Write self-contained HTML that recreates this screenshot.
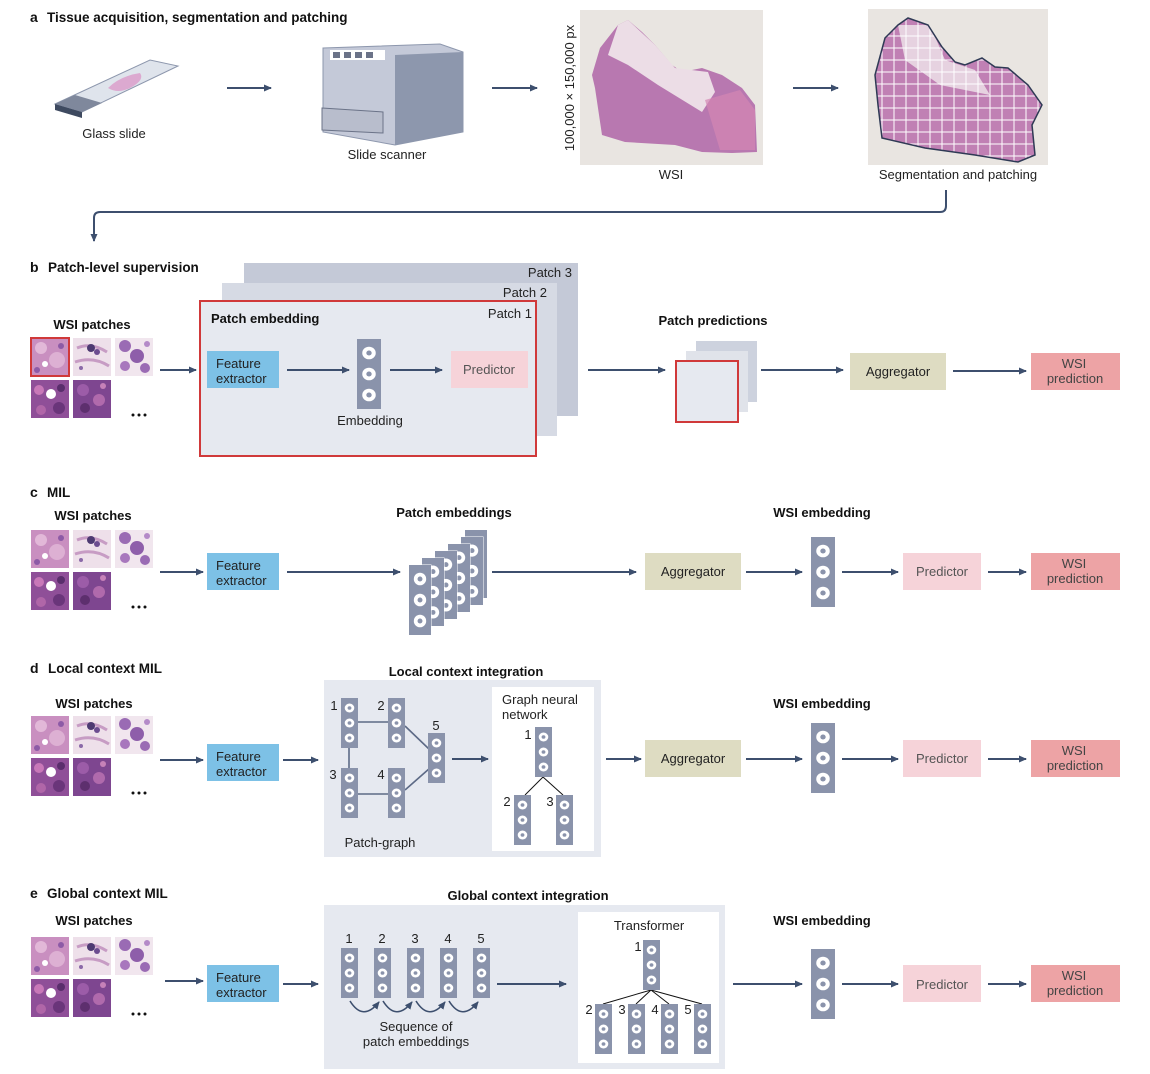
<!DOCTYPE html>
<html><head><meta charset="utf-8"><style>
html,body{margin:0;padding:0;background:#fff;}
svg{display:block;font-family:"Liberation Sans",sans-serif;}
.t{font-size:13px;fill:#222;}
.b{font-size:13px;font-weight:bold;fill:#111;}
.h{font-size:14px;font-weight:bold;fill:#111;}
.ar{stroke:#3d4f6e;stroke-width:2;fill:none;marker-end:url(#ah);}
.ln{stroke:#5d6a86;stroke-width:1.6;fill:none;}
</style></head><body>
<svg width="1150" height="1074" viewBox="0 0 1150 1074" xmlns="http://www.w3.org/2000/svg">
<defs>
<marker id="ah" markerWidth="8" markerHeight="8" refX="7" refY="4" orient="auto" markerUnits="userSpaceOnUse"><path d="M0,0.5 L8,4 L0,7.5z" fill="#3d4f6e"/></marker>
<symbol id="emb" viewBox="0 0 16 50" preserveAspectRatio="none"><rect width="16" height="50" fill="#8a93ab"/><circle cx="8" cy="10" r="4.5" fill="#fff"/><circle cx="8" cy="10" r="1.8" fill="#8a93ab"/><circle cx="8" cy="25" r="4.5" fill="#fff"/><circle cx="8" cy="25" r="1.8" fill="#8a93ab"/><circle cx="8" cy="40" r="4.5" fill="#fff"/><circle cx="8" cy="40" r="1.8" fill="#8a93ab"/></symbol>
<symbol id="t1" viewBox="0 0 38 38"><rect width="38" height="38" fill="#c98fc0"/><circle cx="10" cy="10" r="6" fill="#e2b8d8"/><circle cx="26" cy="22" r="8" fill="#ddb0d3"/><circle cx="14" cy="26" r="3" fill="#fff"/><circle cx="30" cy="8" r="3" fill="#8d5aa6"/><circle cx="6" cy="32" r="3" fill="#8d5aa6"/></symbol>
<symbol id="t2" viewBox="0 0 38 38"><rect width="38" height="38" fill="#eee0ea"/><path d="M4 10 Q18 4 34 14 M2 24 Q20 18 36 28" stroke="#c79cc4" stroke-width="3" fill="none"/><circle cx="18" cy="10" r="4" fill="#4d3a72"/><circle cx="24" cy="14" r="3" fill="#6c4c90"/><circle cx="8" cy="30" r="2" fill="#8b6aa8"/></symbol>
<symbol id="t3" viewBox="0 0 38 38"><rect width="38" height="38" fill="#f1e6ee"/><circle cx="10" cy="8" r="6" fill="#9a6bb4"/><circle cx="22" cy="18" r="7" fill="#8e5eaa"/><circle cx="10" cy="28" r="5" fill="#a877bd"/><circle cx="30" cy="30" r="5" fill="#9a6bb4"/><circle cx="32" cy="6" r="3" fill="#b48ac8"/></symbol>
<symbol id="t4" viewBox="0 0 38 38"><rect width="38" height="38" fill="#8f4f98"/><circle cx="8" cy="10" r="5" fill="#c878b8"/><circle cx="20" cy="14" r="5" fill="#fff"/><circle cx="28" cy="28" r="6" fill="#6a357a"/><circle cx="10" cy="30" r="5" fill="#b066a8"/><circle cx="30" cy="8" r="4" fill="#5a2e6c"/></symbol>
<symbol id="t5" viewBox="0 0 38 38"><rect width="38" height="38" fill="#7e4690"/><circle cx="10" cy="10" r="6" fill="#9c5ca8"/><circle cx="26" cy="20" r="6" fill="#b06aac"/><circle cx="12" cy="28" r="5" fill="#5d2f6e"/><circle cx="30" cy="6" r="3" fill="#c681b8"/></symbol>
<g id="tiles"><use href="#t1" x="0" y="0" width="38" height="38"/><use href="#t2" x="42" y="0" width="38" height="38"/><use href="#t3" x="84" y="0" width="38" height="38"/><use href="#t4" x="0" y="42" width="38" height="38"/><use href="#t5" x="42" y="42" width="38" height="38"/><circle cx="102" cy="77" r="1.5" fill="#111"/><circle cx="108" cy="77" r="1.5" fill="#111"/><circle cx="114" cy="77" r="1.5" fill="#111"/></g>
<clipPath id="segclip"><path d="M875,75 L885,38 L898,25 L908,18 L928,25 L942,47 L955,62 L965,65 L982,58 L995,67 L1008,68 L1028,85 L1042,105 L1032,125 L1035,155 L1018,162 L975,155 L925,148 L882,138 L878,105Z"/></clipPath>
</defs>

<!-- a -->
<text x="30" y="22" class="h">a</text><text x="47" y="22" class="h" style="font-size:13.5px">Tissue acquisition, segmentation and patching</text>
<path d="M55 104 L150 60 L178 66 L82 112Z" fill="#dfe4ec" stroke="#8d97ad"/>
<path d="M55 104 L82 112 L82 118 L55 110Z" fill="#3e4a60"/>
<path d="M55 104 L75 95 L102 103 L82 112Z" fill="#7f889c"/>
<path d="M108 88 Q120 76 140 73 Q145 80 130 88 Q118 94 108 88Z" fill="#dca9d0"/>
<text x="114" y="138" class="t" text-anchor="middle">Glass slide</text>
<line x1="227" y1="88" x2="271" y2="88" class="ar"/>
<path d="M323 48 L440 44 L463 52 L463 132 L395 145 L323 132Z" fill="#c4c9d8" stroke="#8d97ad"/>
<path d="M395 55 L463 52 L463 132 L395 145Z" fill="#8d97ad"/>
<rect x="330" y="50" width="55" height="10" fill="#fff"/>
<rect x="333" y="52" width="7" height="6" fill="#6b7388"/><rect x="344" y="52" width="7" height="6" fill="#6b7388"/><rect x="355" y="52" width="7" height="6" fill="#6b7388"/><rect x="366" y="52" width="7" height="6" fill="#6b7388"/>
<path d="M322 108 L383 112 L383 133 L322 130Z" fill="#b8bdcc" stroke="#6b7388"/>
<text x="387" y="159" class="t" text-anchor="middle">Slide scanner</text>
<line x1="492" y1="88" x2="537" y2="88" class="ar"/>
<text transform="translate(574,88) rotate(-90)" class="t" text-anchor="middle">100,000 × 150,000 px</text>
<rect x="580" y="10" width="183" height="155" fill="#e9e5e1"/>
<path d="M592,75 L600,48 L618,25 L628,20 L642,32 L655,45 L672,65 L682,72 L702,68 L722,75 L742,88 L755,105 L757,152 L732,153 L702,152 L675,145 L625,142 L602,135 L595,88Z" fill="#b878b0"/>
<path d="M618,25 L628,20 L655,45 L675,68 L708,72 L715,92 L702,112 L658,85 L628,65 L608,55Z" fill="#ecdde6"/>
<path d="M705,100 L740,90 L755,110 L755,150 L720,150Z" fill="#d486b4" opacity="0.7"/>
<text x="671" y="179" class="t" text-anchor="middle">WSI</text>
<line x1="793" y1="88" x2="838" y2="88" class="ar"/>
<rect x="868" y="9" width="180" height="156" fill="#e9e5e1"/>
<g clip-path="url(#segclip)">
<rect x="868" y="9" width="180" height="156" fill="#c080b4"/>
<path d="M898,25 L930,25 L945,60 L975,70 L990,95 L940,85 L905,60Z" fill="#e6d2e0"/>
<g stroke="#fff" stroke-width="1">
<line x1="868" y1="36" x2="1048" y2="36"/><line x1="868" y1="48" x2="1048" y2="48"/><line x1="868" y1="60" x2="1048" y2="60"/><line x1="868" y1="72" x2="1048" y2="72"/><line x1="868" y1="84" x2="1048" y2="84"/><line x1="868" y1="96" x2="1048" y2="96"/><line x1="868" y1="108" x2="1048" y2="108"/><line x1="868" y1="120" x2="1048" y2="120"/><line x1="868" y1="132" x2="1048" y2="132"/><line x1="868" y1="144" x2="1048" y2="144"/><line x1="868" y1="156" x2="1048" y2="156"/>
<line x1="882" y1="9" x2="882" y2="165"/><line x1="894" y1="9" x2="894" y2="165"/><line x1="906" y1="9" x2="906" y2="165"/><line x1="918" y1="9" x2="918" y2="165"/><line x1="930" y1="9" x2="930" y2="165"/><line x1="942" y1="9" x2="942" y2="165"/><line x1="954" y1="9" x2="954" y2="165"/><line x1="966" y1="9" x2="966" y2="165"/><line x1="978" y1="9" x2="978" y2="165"/><line x1="990" y1="9" x2="990" y2="165"/><line x1="1002" y1="9" x2="1002" y2="165"/><line x1="1014" y1="9" x2="1014" y2="165"/><line x1="1026" y1="9" x2="1026" y2="165"/><line x1="1038" y1="9" x2="1038" y2="165"/>
</g></g>
<path d="M875,75 L885,38 L898,25 L908,18 L928,25 L942,47 L955,62 L965,65 L982,58 L995,67 L1008,68 L1028,85 L1042,105 L1032,125 L1035,155 L1018,162 L975,155 L925,148 L882,138 L878,105Z" fill="none" stroke="#2f3a55" stroke-width="1.5"/>
<text x="958" y="179" class="t" text-anchor="middle">Segmentation and patching</text>
<path d="M946 190 L946 206 Q946 212 940 212 L100 212 Q94 212 94 218 L94 241" class="ar"/>

<!-- b -->
<text x="30" y="272" class="h">b</text><text x="48" y="272" class="h" style="font-size:13.5px">Patch-level supervision</text>
<rect x="244" y="263" width="334" height="153" fill="#c4c9d7"/>
<rect x="222" y="283" width="335" height="153" fill="#d6dae4"/>
<rect x="200" y="301" width="336" height="155" fill="#e6e9f0" stroke="#d0393a" stroke-width="2"/>
<text x="572" y="277" class="t" text-anchor="end">Patch 3</text>
<text x="547" y="297" class="t" text-anchor="end">Patch 2</text>
<text x="532" y="318" class="t" text-anchor="end">Patch 1</text>
<text x="211" y="323" class="b">Patch embedding</text>
<rect x="207" y="351" width="72" height="37" fill="#7dc1e6"/>
<text x="216" y="368" class="t">Feature</text><text x="216" y="383" class="t">extractor</text>
<line x1="287" y1="370" x2="349" y2="370" class="ar"/>
<use href="#emb" x="357" y="339" width="24" height="70"/>
<text x="370" y="425" class="t" text-anchor="middle">Embedding</text>
<line x1="390" y1="370" x2="442" y2="370" class="ar"/>
<rect x="451" y="351" width="77" height="37" fill="#f6d3d9"/>
<text x="489" y="374" class="t" text-anchor="middle" style="fill:#555">Predictor</text>
<text x="92" y="329" class="b" text-anchor="middle">WSI patches</text>
<use href="#tiles" x="31" y="338"/>
<rect x="31" y="338" width="38" height="38" fill="none" stroke="#d0393a" stroke-width="2"/>
<line x1="160" y1="370" x2="196" y2="370" class="ar"/>
<line x1="588" y1="370" x2="665" y2="370" class="ar"/>
<text x="713" y="325" class="b" text-anchor="middle">Patch predictions</text>
<rect x="696" y="341" width="61" height="61" fill="#cdd2de"/>
<rect x="686" y="351" width="62" height="61" fill="#e0e3ea"/>
<rect x="676" y="361" width="62" height="61" fill="#e6e9f0" stroke="#d0393a" stroke-width="2"/>
<line x1="761" y1="370" x2="843" y2="370" class="ar"/>
<rect x="850" y="353" width="96" height="37" fill="#dedcc2"/>
<text x="898" y="376" class="t" text-anchor="middle">Aggregator</text>
<line x1="953" y1="371" x2="1026" y2="371" class="ar"/>
<rect x="1031" y="353" width="89" height="37" fill="#eda3a5"/>
<text x="1074" y="368" class="t" text-anchor="middle" style="fill:#444">WSI</text><text x="1075" y="383" class="t" text-anchor="middle" style="fill:#444">prediction</text>

<!-- c -->
<text x="30" y="497" class="h">c</text><text x="47" y="497" class="h" style="font-size:13.5px">MIL</text>
<text x="93" y="520" class="b" text-anchor="middle">WSI patches</text>
<use href="#tiles" x="31" y="530"/>
<line x1="160" y1="572" x2="203" y2="572" class="ar"/>
<rect x="207" y="553" width="72" height="37" fill="#7dc1e6"/>
<text x="216" y="570" class="t">Feature</text><text x="216" y="585" class="t">extractor</text>
<line x1="287" y1="572" x2="400" y2="572" class="ar"/>
<text x="454" y="517" class="b" text-anchor="middle">Patch embeddings</text>
<rect x="474" y="530" width="13" height="68" fill="#8a93ab" stroke="#fff"/><use href="#emb" x="465" y="530" width="22" height="68"/>
<rect x="461" y="537" width="22" height="68" fill="#8a93ab" stroke="#fff"/><use href="#emb" x="461" y="537" width="22" height="68"/>
<rect x="448" y="544" width="22" height="68" fill="#8a93ab" stroke="#fff"/><use href="#emb" x="448" y="544" width="22" height="68"/>
<rect x="435" y="551" width="22" height="68" fill="#8a93ab" stroke="#fff"/><use href="#emb" x="435" y="551" width="22" height="68"/>
<rect x="422" y="558" width="22" height="68" fill="#8a93ab" stroke="#fff"/><use href="#emb" x="422" y="558" width="22" height="68"/>
<rect x="409" y="565" width="22" height="70" fill="#8a93ab" stroke="#fff"/><use href="#emb" x="409" y="565" width="22" height="70"/>
<line x1="492" y1="572" x2="636" y2="572" class="ar"/>
<rect x="645" y="553" width="96" height="37" fill="#dedcc2"/>
<text x="693" y="576" class="t" text-anchor="middle">Aggregator</text>
<text x="822" y="517" class="b" text-anchor="middle">WSI embedding</text>
<line x1="746" y1="572" x2="802" y2="572" class="ar"/>
<use href="#emb" x="811" y="537" width="24" height="70"/>
<line x1="842" y1="572" x2="898" y2="572" class="ar"/>
<rect x="903" y="553" width="78" height="37" fill="#f6d3d9"/>
<text x="942" y="576" class="t" text-anchor="middle" style="fill:#555">Predictor</text>
<line x1="988" y1="572" x2="1026" y2="572" class="ar"/>
<rect x="1031" y="553" width="89" height="37" fill="#eda3a5"/>
<text x="1074" y="568" class="t" text-anchor="middle" style="fill:#444">WSI</text><text x="1075" y="583" class="t" text-anchor="middle" style="fill:#444">prediction</text>

<!-- d -->
<text x="30" y="673" class="h">d</text><text x="48" y="673" class="h" style="font-size:13.5px">Local context MIL</text>
<text x="94" y="708" class="b" text-anchor="middle">WSI patches</text>
<use href="#tiles" x="31" y="716"/>
<line x1="160" y1="760" x2="203" y2="760" class="ar"/>
<rect x="207" y="744" width="72" height="37" fill="#7dc1e6"/>
<text x="216" y="761" class="t">Feature</text><text x="216" y="776" class="t">extractor</text>
<line x1="283" y1="760" x2="318" y2="760" class="ar"/>
<text x="466" y="676" class="b" text-anchor="middle">Local context integration</text>
<rect x="324" y="680" width="277" height="177" fill="#e6e9f0"/>
<line x1="358" y1="722" x2="388" y2="722" class="ln"/>
<line x1="349" y1="748" x2="349" y2="768" class="ln"/>
<line x1="358" y1="794" x2="388" y2="794" class="ln"/>
<line x1="405" y1="726" x2="430" y2="750" class="ln"/>
<line x1="405" y1="790" x2="430" y2="768" class="ln"/>
<use href="#emb" x="341" y="698" width="17" height="50"/>
<use href="#emb" x="388" y="698" width="17" height="50"/>
<use href="#emb" x="428" y="733" width="17" height="50"/>
<use href="#emb" x="341" y="768" width="17" height="50"/>
<use href="#emb" x="388" y="768" width="17" height="50"/>
<text x="334" y="710" class="t" text-anchor="middle">1</text>
<text x="381" y="710" class="t" text-anchor="middle">2</text>
<text x="436" y="730" class="t" text-anchor="middle">5</text>
<text x="333" y="779" class="t" text-anchor="middle">3</text>
<text x="381" y="779" class="t" text-anchor="middle">4</text>
<text x="380" y="847" class="t" text-anchor="middle">Patch-graph</text>
<line x1="452" y1="759" x2="488" y2="759" class="ar"/>
<rect x="492" y="687" width="102" height="164" fill="#fff"/>
<text x="502" y="704" class="t">Graph neural</text><text x="502" y="719" class="t">network</text>
<line x1="543" y1="777" x2="525" y2="795" stroke="#111" stroke-width="1"/>
<line x1="543" y1="777" x2="563" y2="795" stroke="#111" stroke-width="1"/>
<use href="#emb" x="535" y="727" width="17" height="50"/>
<use href="#emb" x="514" y="795" width="17" height="50"/>
<use href="#emb" x="556" y="795" width="17" height="50"/>
<text x="528" y="739" class="t" text-anchor="middle">1</text>
<text x="507" y="806" class="t" text-anchor="middle">2</text>
<text x="550" y="806" class="t" text-anchor="middle">3</text>
<line x1="606" y1="759" x2="641" y2="759" class="ar"/>
<rect x="645" y="740" width="96" height="37" fill="#dedcc2"/>
<text x="693" y="763" class="t" text-anchor="middle">Aggregator</text>
<text x="822" y="708" class="b" text-anchor="middle">WSI embedding</text>
<line x1="746" y1="759" x2="802" y2="759" class="ar"/>
<use href="#emb" x="811" y="723" width="24" height="70"/>
<line x1="842" y1="759" x2="898" y2="759" class="ar"/>
<rect x="903" y="740" width="78" height="37" fill="#f6d3d9"/>
<text x="942" y="763" class="t" text-anchor="middle" style="fill:#555">Predictor</text>
<line x1="988" y1="759" x2="1026" y2="759" class="ar"/>
<rect x="1031" y="740" width="89" height="37" fill="#eda3a5"/>
<text x="1074" y="755" class="t" text-anchor="middle" style="fill:#444">WSI</text><text x="1075" y="770" class="t" text-anchor="middle" style="fill:#444">prediction</text>

<!-- e -->
<text x="30" y="898" class="h">e</text><text x="47" y="898" class="h" style="font-size:13.5px">Global context MIL</text>
<text x="94" y="925" class="b" text-anchor="middle">WSI patches</text>
<use href="#tiles" x="31" y="937"/>
<line x1="165" y1="981" x2="203" y2="981" class="ar"/>
<rect x="207" y="965" width="72" height="37" fill="#7dc1e6"/>
<text x="216" y="982" class="t">Feature</text><text x="216" y="997" class="t">extractor</text>
<line x1="283" y1="984" x2="318" y2="984" class="ar"/>
<text x="528" y="900" class="b" text-anchor="middle">Global context integration</text>
<rect x="324" y="905" width="401" height="164" fill="#e6e9f0"/>
<use href="#emb" x="341" y="948" width="17" height="50"/>
<use href="#emb" x="374" y="948" width="17" height="50"/>
<use href="#emb" x="407" y="948" width="17" height="50"/>
<use href="#emb" x="440" y="948" width="17" height="50"/>
<use href="#emb" x="473" y="948" width="17" height="50"/>
<text x="349" y="943" class="t" text-anchor="middle">1</text>
<text x="382" y="943" class="t" text-anchor="middle">2</text>
<text x="415" y="943" class="t" text-anchor="middle">3</text>
<text x="448" y="943" class="t" text-anchor="middle">4</text>
<text x="481" y="943" class="t" text-anchor="middle">5</text>
<path d="M350 1001 Q363 1022 379 1002" class="ar" style="stroke-width:1.6"/>
<path d="M383 1001 Q396 1022 412 1002" class="ar" style="stroke-width:1.6"/>
<path d="M416 1001 Q429 1022 445 1002" class="ar" style="stroke-width:1.6"/>
<path d="M449 1001 Q462 1022 478 1002" class="ar" style="stroke-width:1.6"/>
<text x="416" y="1031" class="t" text-anchor="middle">Sequence of</text>
<text x="416" y="1046" class="t" text-anchor="middle">patch embeddings</text>
<line x1="497" y1="984" x2="566" y2="984" class="ar"/>
<rect x="578" y="912" width="141" height="151" fill="#fff"/>
<text x="649" y="930" class="t" text-anchor="middle">Transformer</text>
<g stroke="#111" stroke-width="1"><line x1="651" y1="990" x2="603" y2="1004"/><line x1="651" y1="990" x2="636" y2="1004"/><line x1="651" y1="990" x2="669" y2="1004"/><line x1="651" y1="990" x2="702" y2="1004"/></g>
<use href="#emb" x="643" y="940" width="17" height="50"/>
<use href="#emb" x="595" y="1004" width="17" height="50"/>
<use href="#emb" x="628" y="1004" width="17" height="50"/>
<use href="#emb" x="661" y="1004" width="17" height="50"/>
<use href="#emb" x="694" y="1004" width="17" height="50"/>
<text x="638" y="951" class="t" text-anchor="middle">1</text>
<text x="589" y="1014" class="t" text-anchor="middle">2</text>
<text x="622" y="1014" class="t" text-anchor="middle">3</text>
<text x="655" y="1014" class="t" text-anchor="middle">4</text>
<text x="688" y="1014" class="t" text-anchor="middle">5</text>
<text x="822" y="925" class="b" text-anchor="middle">WSI embedding</text>
<line x1="733" y1="984" x2="802" y2="984" class="ar"/>
<use href="#emb" x="811" y="949" width="24" height="70"/>
<line x1="842" y1="984" x2="898" y2="984" class="ar"/>
<rect x="903" y="965" width="78" height="37" fill="#f6d3d9"/>
<text x="942" y="989" class="t" text-anchor="middle" style="fill:#555">Predictor</text>
<line x1="988" y1="984" x2="1026" y2="984" class="ar"/>
<rect x="1031" y="965" width="89" height="37" fill="#eda3a5"/>
<text x="1074" y="980" class="t" text-anchor="middle" style="fill:#444">WSI</text><text x="1075" y="995" class="t" text-anchor="middle" style="fill:#444">prediction</text>
</svg>
</body></html>
